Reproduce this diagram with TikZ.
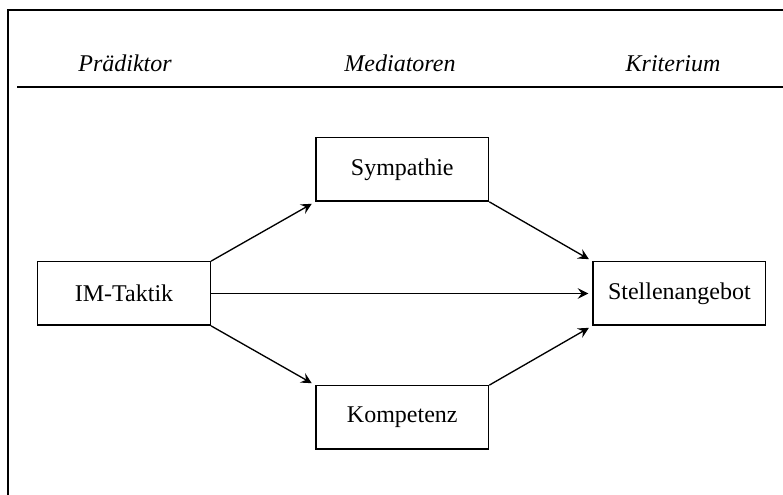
\documentclass[tikz,border=0pt]{standalone}
\usepackage{fontspec}
\setmainfont{Liberation Serif}
\usetikzlibrary{positioning,arrows.meta}

\tikzset{
  box/.style={draw, line width=1pt, minimum width=129.5pt, minimum height=47.5pt,
    inner sep=0pt, font=\fontsize{18}{21}\selectfont},
  head/.style={anchor=base, font=\fontsize{18}{21}\selectfont\itshape},
  arr/.style={-{Stealth[length=8pt,width=8pt,inset=3pt]}, line width=1pt, shorten >=3pt},
}

\begin{document}
\begin{tikzpicture}[x=0.75pt,y=-0.75pt]
  \useasboundingbox (0,0) rectangle (783,495);
  \draw[line width=1.1pt] (8,495) -- (8,10) -- (783,10);
  \draw[line width=1.1pt] (17,87) -- (783,87);

  \node[head] (h1) at (125,72) {Prädiktor};
  \node[head] (h2) at (400,72) {Mediatoren};
  \node[head] (h3) at (673,72) {Kriterium};

  \node[box] (p) at (124,293.5) {IM-Taktik};
  \node[box, above right=44.5pt and 78.2pt of p] (m1) {Sympathie};
  \node[box, below right=44.5pt and 78.2pt of p] (m2) {Kompetenz};
  \node[box, right=286pt of p] (k) {Stellenangebot};

  \draw[arr] (p.north east) -- (m1.south west);
  \draw[arr] (p.south east) -- (m2.north west);
  \draw[arr] (p) -- (k);
  \draw[arr] (m1.south east) -- (k.north west);
  \draw[arr] (m2.north east) -- (k.south west);
\end{tikzpicture}
\end{document}
